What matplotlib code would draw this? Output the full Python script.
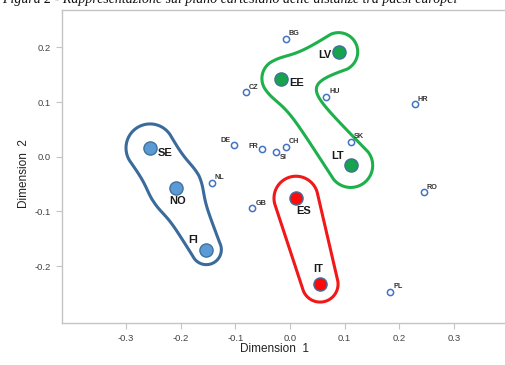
import numpy as np
import matplotlib
matplotlib.use("Agg")
import matplotlib.pyplot as plt

# ---------------- data ----------------
countries = ["BG", "CZ", "HU", "HR", "SK", "CH", "SI", "DE", "FR", "NL", "GB", "RO", "PL",
             "SE", "NO", "FI", "LV", "EE", "LT", "ES", "IT"]
dim1 = [-0.008, -0.080, 0.066, 0.228, 0.112, -0.008, -0.025, -0.103, -0.052, -0.143, -0.069, 0.245, 0.183,
        -0.256, -0.209, -0.153, 0.089, -0.016, 0.111, 0.011, 0.055]
dim2 = [0.216, 0.118, 0.110, 0.096, 0.027, 0.018, 0.008, 0.022, 0.014, -0.048, -0.094, -0.065, -0.247,
        0.016, -0.057, -0.170, 0.192, 0.143, -0.016, -0.076, -0.233]

group_nordic = ["SE", "NO", "FI"]
group_baltic = ["LV", "EE", "LT"]
group_south = ["ES", "IT"]

xticks = [-0.3, -0.2, -0.1, 0.0, 0.1, 0.2, 0.3]
yticks = [-0.2, -0.1, 0.0, 0.1, 0.2]

title = "Figura 2 - Rappresentazione sul piano cartesiano delle distanze tra paesi europei"

# ---------------- styling ----------------
W, H, DPI = 506, 365, 100
fig = plt.figure(figsize=(W / DPI, H / DPI), dpi=DPI)
plt.rcParams["font.family"] = ["Liberation Sans", "DejaVu Sans"]

ax_left, ax_right, ax_top, ax_bottom = 62, 520, 10, 323
ax = fig.add_axes([ax_left / W, (H - ax_bottom) / H, (ax_right - ax_left) / W, (ax_bottom - ax_top) / H])
ax.set_xlim(-0.417, 0.4207)
ax.set_ylim(-0.3042, 0.2683)

spine_col = "#c4c4c4"
for s in ["left", "bottom", "top"]:
    ax.spines[s].set_color(spine_col)
    ax.spines[s].set_linewidth(1.0)
ax.spines["right"].set_visible(False)
ax.set_xticks(xticks)
ax.set_yticks(yticks)
ax.set_xticklabels([f"{v:.1f}" for v in xticks])
ax.set_yticklabels([f"{v:.1f}" for v in yticks])
ax.tick_params(direction="out", length=4, width=0.8, color=spine_col,
               labelsize=6.8, labelcolor="#444444", pad=4)

pos = {c: (x, y) for c, x, y in zip(countries, dim1, dim2)}
# (members, line colour, fill colour, radii in px, blend in px)
groups = [(group_nordic, "#3A6B9B", "#5B9BD5", [24, 22, 15], 6),
          (group_baltic, "#1DB04B", "#17A24E", [19, 11, 22], 12),
          (group_south, "#F01818", "#FF0A0A", [22, 18], 2)]

# hull outlines: smooth distance field around the group's polyline
px_per_unit = 546.7
gx = np.linspace(-0.42, 0.43, 900)
gy = np.linspace(-0.31, 0.27, 620)
GX, GY = np.meshgrid(gx, gy)
for members, lc, fc, radii, blend in groups:
    pts = np.array([pos[m] for m in members])
    r = np.array(radii) / px_per_unit
    k = blend / px_per_unit
    acc = np.zeros(GX.shape)
    for i in range(len(pts) - 1):
        a, b = pts[i], pts[i + 1]
        d = b - a
        t = ((GX - a[0]) * d[0] + (GY - a[1]) * d[1]) / (d @ d)
        t = np.clip(t, 0, 1)
        dist = np.hypot(GX - (a[0] + t * d[0]), GY - (a[1] + t * d[1]))
        acc += np.exp(-(dist - (r[i] + t * (r[i + 1] - r[i]))) / k)
    F = -k * np.log(acc)
    ax.contour(GX, GY, F, levels=[0], colors=[lc], linewidths=2.2)

# small open markers
grouped = set(group_nordic + group_baltic + group_south)
others = [c for c in countries if c not in grouped]
ax.scatter([pos[c][0] for c in others], [pos[c][1] for c in others], s=20, facecolor="white",
           edgecolor="#4472C4", linewidth=1.1, zorder=3)
for members, lc, fc, radii, blend in groups:
    ax.scatter([pos[m][0] for m in members], [pos[m][1] for m in members], s=90, facecolor=fc,
               edgecolor="#41719C", linewidth=1.0, zorder=4)

# labels
small_off = {"DE": (-3, 4, "right"), "FR": (-3, 3, "right"), "SI": (3, -5, "left")}
for c in others:
    dx, dy, ha = small_off.get(c, (3, 5, "left"))
    ax.annotate(c, pos[c], xytext=(dx, dy), textcoords="offset pixels", ha=ha, va="center",
                fontsize=5.2, color="#333333", fontweight="bold")
big_off = {"SE": (15, -5), "NO": (2, -13), "FI": (-13, 10), "LV": (-14, -3), "EE": (15, -4),
           "LT": (-13, 9), "ES": (8, -13), "IT": (-2, 15)}
for c in group_nordic + group_baltic + group_south:
    dx, dy = big_off[c]
    ax.annotate(c, pos[c], xytext=(dx, dy), textcoords="offset pixels", ha="center", va="center",
                fontsize=8, color="#1a1a1a", fontweight="bold")

fig.text(275 / W, 1 - 349 / H, "Dimension  1", ha="center", va="center", fontsize=8.5, color="#222222")
fig.text(24 / W, 1 - 173.5 / H, "Dimension  2", ha="center", va="center", fontsize=8.5,
         color="#222222", rotation=90)
fig.text(2 / W, 1 - 2.5 / H, title, ha="left", va="baseline", fontsize=10.0, style="italic",
         family="Liberation Serif", color="#111111")

fig.savefig("out.png", dpi=DPI)
